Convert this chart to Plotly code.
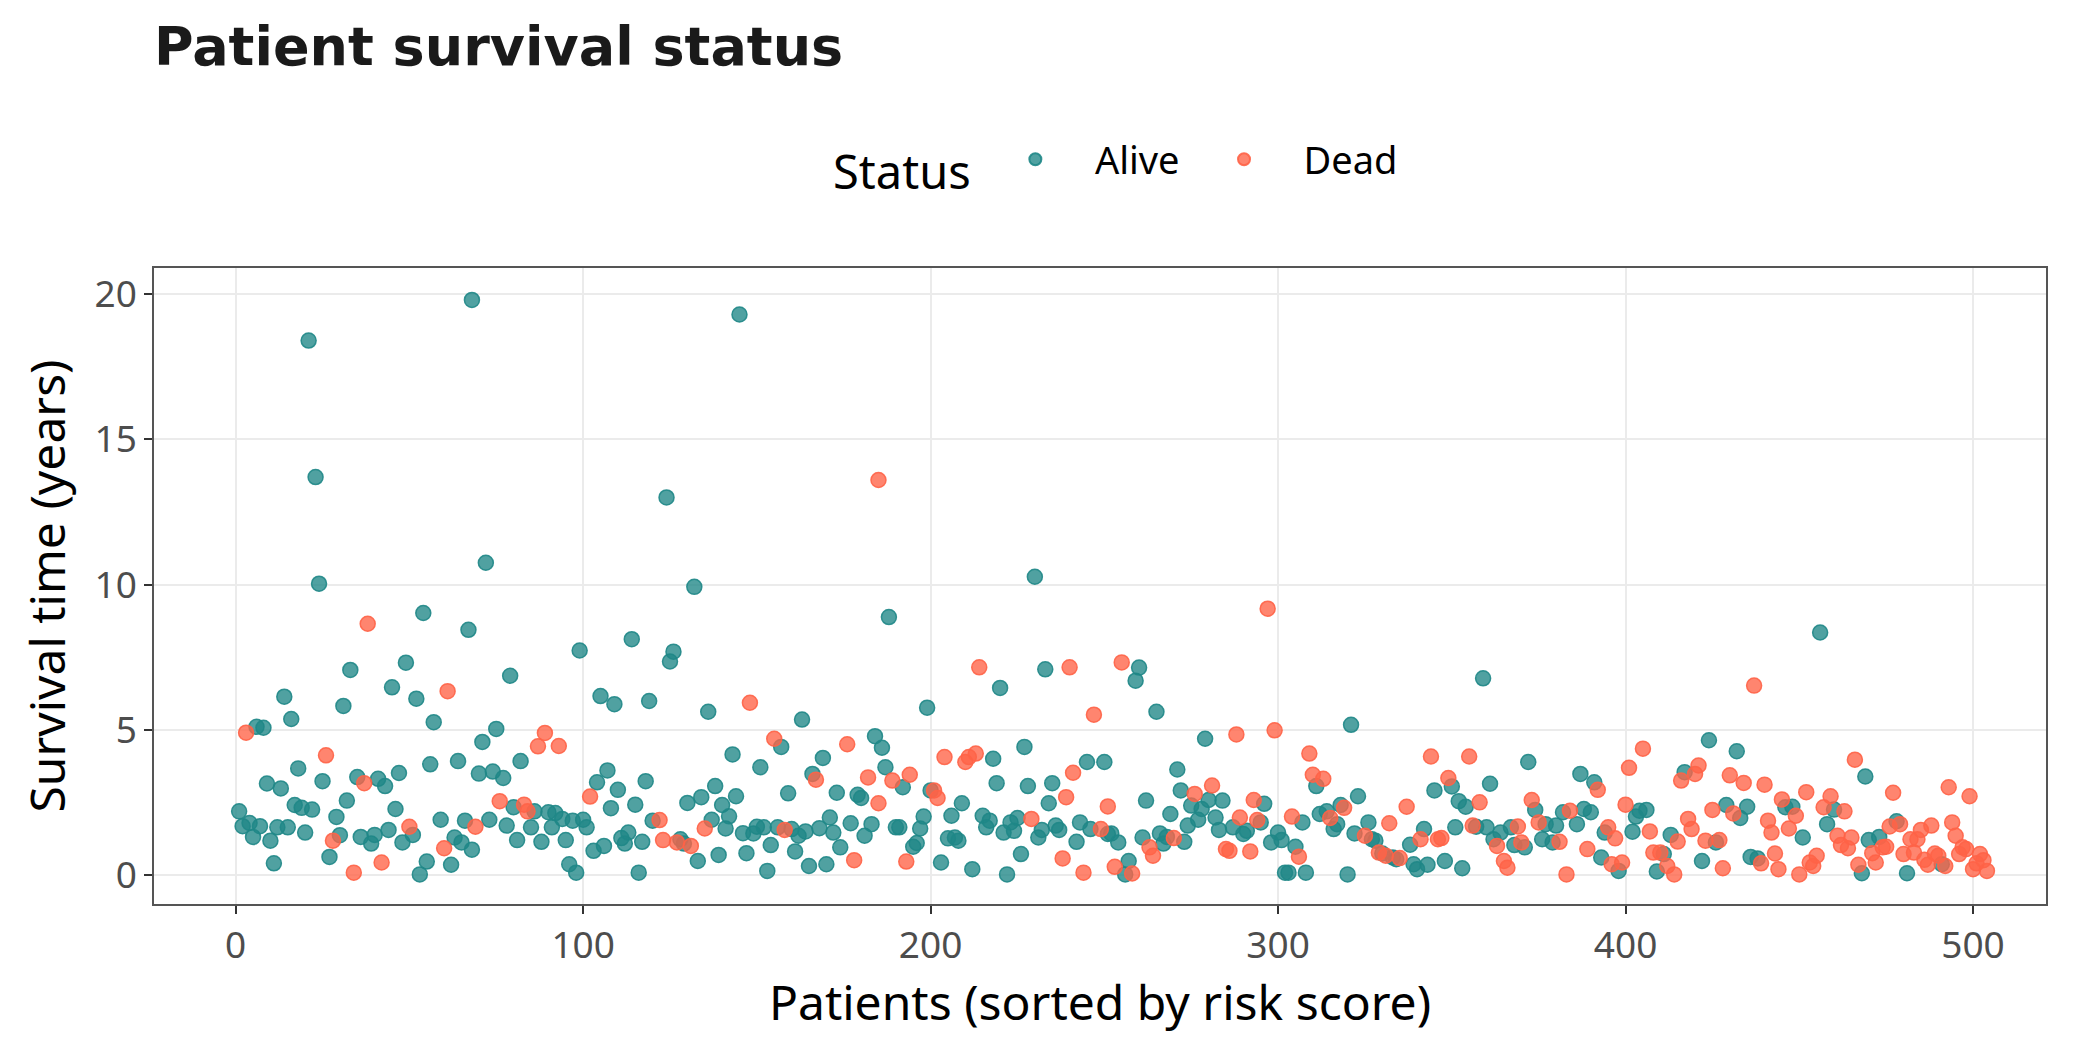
import plotly.graph_objects as go

# ---- Data ----
alive_patients = [1, 2, 4, 5, 6, 7, 8, 9, 10, 11, 12, 13, 14, 15, 16, 17, 18, 19, 20, 21, 22, 23, 24, 25, 27, 29, 30, 31, 32, 33, 35, 36, 39, 40,
                  41, 43, 44, 45, 46, 47, 48, 49, 51, 52, 53, 54, 55, 56, 57, 59, 62, 63, 64, 65, 66, 67, 68, 68, 70, 71, 72, 73, 74, 75, 77, 78, 79, 80, 81, 82,
                  85, 86, 88, 90, 91, 92, 94, 95, 96, 97, 98, 99, 100, 101, 103, 104, 105, 106, 107, 108, 109, 110, 111, 112, 113, 114, 115, 116, 117, 118, 119, 120,
                  124, 125, 126, 128, 129, 130, 132, 133, 134, 136, 137, 138, 139, 140, 141, 142, 143, 144, 145, 146, 147, 149, 150, 151, 152, 153, 154, 156, 157, 159, 160, 161, 162, 163, 164, 165, 166,
                  168, 169, 170, 171, 172, 173, 174, 177, 179, 180, 181, 183, 184, 186, 187, 188, 190, 191, 192, 195, 196, 197, 198, 199, 200, 203, 205, 206, 207, 208, 209,
                  212, 215, 216, 217, 218, 219, 220, 221, 222, 223, 224, 225, 226, 227, 228, 230, 231, 232, 233, 234, 235, 236, 237, 242, 243, 245, 246, 250, 251,
                  252, 254, 256, 257, 259, 260, 261, 262, 265, 266, 267, 268, 269, 271, 272, 273, 274, 275, 277, 278, 279, 280, 282, 283, 284, 287, 290, 291,
                  295, 296, 298, 300, 301, 302, 303, 305, 307, 308, 311, 312, 314, 316, 317, 318, 320, 321, 322, 323, 326, 327, 328, 330, 333, 334,
                  338, 339, 340, 342, 343, 345, 348, 350, 351, 352, 353, 354, 357, 359, 360, 361, 362, 364, 367, 368, 371, 372, 374, 376, 377, 379, 380,
                  382, 386, 387, 388, 390, 391, 393, 394, 398, 402, 403, 404, 406, 409, 411, 413, 417,
                  422, 424, 426, 429, 432, 433, 435, 436, 438, 446, 448, 451, 456, 458, 460,
                  468, 469, 470, 473, 478, 481, 491]
alive_years = [2.19, 1.68, 1.79, 1.31, 5.10, 1.68, 5.07, 3.15, 1.18, 0.40, 1.64, 2.98, 6.14, 1.64, 5.37, 2.41, 3.67, 2.31, 1.46, 18.4, 2.25, 13.7, 10.03, 3.23, 0.62, 2.00, 1.37, 5.82, 2.56, 7.06, 3.37, 1.31, 1.08, 1.38,
               3.31, 3.06, 1.55, 6.46, 2.27, 3.51, 1.12, 7.31, 1.38, 6.07, 0.02, 9.02, 0.46, 3.81, 5.26, 1.90, 0.35, 1.29, 3.92, 1.12, 1.87, 8.44, 19.8, 0.87, 3.49, 4.58, 10.75, 1.90, 3.56, 5.03, 3.34, 1.70, 6.86, 2.33, 1.20, 3.92,
               1.64, 2.19, 1.14, 2.16, 1.64, 2.13, 1.93, 1.20, 0.37, 1.87, 0.08, 7.73, 1.90, 1.64, 0.83, 3.19, 6.16, 1.00, 3.60, 2.30, 5.88, 2.93, 1.27, 1.08, 1.46, 8.12, 2.42, 0.08, 1.14, 3.23, 5.99, 1.87,
               13.0, 7.35, 7.69, 1.23, 1.08, 2.48, 9.92, 0.48, 2.68, 5.62, 1.90, 3.06, 0.69, 2.41, 1.60, 2.02, 4.15, 2.71, 19.3, 1.44, 0.75, 1.43, 1.66, 3.71, 1.64, 0.14, 1.03, 1.64, 4.41, 2.81, 1.58, 0.81, 1.35, 5.35, 1.50, 0.31, 3.48,
               1.61, 4.03, 0.37, 1.98, 1.46, 2.83, 0.95, 1.78, 2.76, 2.65, 1.35, 1.75, 4.78, 4.38, 3.71, 8.88, 1.64, 1.64, 3.02, 0.97, 1.10, 1.60, 2.01, 5.76, 2.91, 0.43, 1.26, 2.04, 1.29, 1.18, 2.47,
               0.20, 2.04, 1.64, 1.87, 4.00, 3.16, 6.44, 1.46, 0.02, 1.81, 1.52, 1.96, 0.72, 4.41, 3.06, 10.27, 1.29, 1.55, 7.08, 2.47, 3.16, 1.70, 1.55, 1.14, 1.81, 3.89, 1.58, 3.89, 1.41,
               1.43, 1.12, 0.02, 0.48, 6.69, 7.14, 1.29, 2.56, 5.62, 1.43, 1.08, 1.31, 2.10, 3.63, 2.91, 1.14, 1.70, 2.39, 1.90, 2.27, 4.69, 2.58, 1.98, 1.55, 2.56, 1.64, 1.41, 1.52,
               1.81, 2.45, 1.12, 1.46, 1.20, 0.08, 0.08, 0.97, 1.81, 0.08, 3.06, 2.10, 2.19, 1.58, 1.75, 2.41, 0.02, 5.17, 1.43, 2.71, 1.81, 1.23, 1.18, 0.74, 0.60, 0.54,
               1.04, 0.37, 0.20, 1.58, 0.35, 2.91, 0.48, 3.05, 1.64, 2.54, 0.23, 2.35, 1.66, 6.77, 1.64, 3.14, 1.23, 1.46, 1.64, 1.03, 0.95, 3.89, 2.24, 1.23, 1.75, 1.12, 1.70,
               2.16, 1.75, 3.48, 2.27, 2.16, 3.19, 0.60, 1.46, 0.14, 1.49, 2.01, 2.21, 2.24, 0.12, 0.72, 1.38, 3.54,
               0.48, 4.64, 1.12, 2.41, 4.26, 1.96, 2.35, 0.62, 0.57, 2.33, 2.35, 1.29, 8.35, 1.75, 2.25,
               0.06, 3.39, 1.20, 1.31, 1.85, 0.06, 0.37]

dead_patients = [3, 26, 28, 34, 37, 38, 42,
                 50, 60, 61, 69, 76, 83, 84,
                 87, 89, 93, 102, 122, 123,
                 127, 131, 135, 148, 155, 158,
                 167, 176, 178, 182, 185, 185, 189, 193, 194, 201, 202, 204,
                 210, 211, 213, 214, 229, 238, 239, 240, 241, 244, 247, 249, 251,
                 253, 255, 258, 263, 264, 270, 276, 281, 285, 286, 288, 289, 292, 293, 294,
                 297, 299, 304, 306, 309, 310, 313, 315, 319, 325, 329, 331, 332, 335,
                 337, 341, 344, 346, 347, 349, 355, 356, 358, 363, 365, 366, 369, 370, 373, 375,
                 381, 383, 384, 389, 392, 395, 396, 397, 399, 400, 401, 405, 407, 408, 410, 412, 414, 415, 416, 418, 419, 420,
                 421, 423, 425, 427, 428, 430, 431, 434, 437, 439, 440, 441, 442, 443, 444, 445, 447, 449, 450, 452, 453, 454, 455, 457, 459, 461, 462, 463,
                 464, 465, 466, 467, 471, 472, 474, 475, 476, 477, 479, 480, 482, 483, 484, 485, 486, 487, 488, 489, 490, 492, 493, 494, 495, 496, 497, 498, 499, 500, 501, 502, 503, 504]
dead_years = [4.90, 4.12, 1.18, 0.08, 3.16, 8.65, 0.43,
              1.66, 0.92, 6.33, 1.66, 2.54, 2.42, 2.19,
              4.43, 4.89, 4.44, 2.70, 1.89, 1.20,
              1.12, 1.00, 1.60, 5.93, 4.69, 1.55,
              3.28, 4.50, 0.51, 3.36, 13.6, 2.47, 3.25, 0.46, 3.45, 2.91, 2.65, 4.06,
              3.89, 4.06, 4.18, 7.15, 1.93, 0.57, 2.68, 7.15, 3.52, 0.08, 5.52, 1.58, 2.36,
              0.28, 7.32, 0.05, 0.95, 0.66, 1.27, 2.79, 3.08, 0.89, 0.83, 4.84, 1.98, 0.81, 2.58, 1.89,
              9.17, 4.98, 2.01, 0.63, 4.18, 3.45, 3.31, 1.96, 2.31, 1.35, 0.77, 0.66, 1.78, 0.58,
              2.35, 1.23, 4.08, 1.23, 1.27, 3.34, 4.08, 1.70, 2.50, 1.00, 0.48, 0.25, 1.67, 1.12, 2.58, 1.81,
              1.14, 0.02, 2.21, 0.89, 2.93, 1.64, 0.37, 1.26, 0.43, 2.42, 3.69, 4.35, 1.50, 0.77, 0.77, 0.31, 0.02, 1.15, 3.25, 1.93, 1.58, 3.48,
              3.77, 1.18, 2.24, 1.20, 0.23, 3.43, 2.12, 3.17, 6.52, 0.40, 3.11, 1.87, 1.46, 0.74, 0.20, 2.60, 1.60, 2.04, 0.02, 2.85, 0.43, 0.31, 0.66, 2.33, 2.71, 1.35, 1.03, 2.19,
              0.92, 1.29, 3.97, 0.35, 0.75, 0.43, 0.95, 0.97, 1.67, 2.83, 1.75, 0.72, 1.23, 0.77, 1.23, 1.55, 0.52, 0.35, 1.70, 0.74, 0.66, 0.31, 3.02, 1.81, 1.35, 0.72, 0.95, 0.89, 2.71, 0.20, 0.40, 0.72, 0.51, 0.14]

status_labels = ["Alive", "Dead"]
x_ticks = [0, 100, 200, 300, 400, 500]
y_ticks = [0, 5, 10, 15, 20]

ALIVE_FILL = "rgba(31,135,135,0.78)"
ALIVE_LINE = "rgba(31,135,135,0.9)"
DEAD_FILL = "rgba(255,99,71,0.78)"
DEAD_LINE = "rgba(255,99,71,0.9)"

NB = "\u00a0"

fig = go.Figure()
fig.add_trace(go.Scatter(
    x=alive_patients, y=alive_years, mode="markers",
    name=NB * 4 + status_labels[0] + NB * 4,
    marker=dict(size=15, color=ALIVE_FILL, line=dict(color=ALIVE_LINE, width=1.5)),
))
fig.add_trace(go.Scatter(
    x=dead_patients, y=dead_years, mode="markers",
    name=NB * 4 + status_labels[1],
    marker=dict(size=15, color=DEAD_FILL, line=dict(color=DEAD_LINE, width=1.5)),
))

axis_common = dict(
    showgrid=True, gridcolor="#EBEBEB", gridwidth=1.5,
    zeroline=False,
    showline=True, mirror=True, linecolor="#555555", linewidth=1.5,
    ticks="outside", ticklen=8, tickwidth=1.5, tickcolor="#333333",
    tickfont=dict(family="Noto Sans", size=37, color="#4D4D4D"),
)

fig.update_layout(
    width=2100, height=1050,
    paper_bgcolor="white", plot_bgcolor="white",
    margin=dict(l=154, r=54, t=268, b=146),
    title=dict(
        text="<b>Patient survival status</b>",
        font=dict(family="DejaVu Sans", size=54, color="#1A1A1A"),
        x=154 / 2100, xref="container", xanchor="left",
        y=1 - 46 / 1050, yref="container", yanchor="middle",
    ),
    legend=dict(
        orientation="h",
        x=0.509, xanchor="center", xref="paper",
        y=1 - 164 / 1050, yref="container", yanchor="middle",
        title=dict(text="Status" + NB * 3, side="left", font=dict(family="Noto Sans", size=47, color="#000000")),
        font=dict(family="Noto Sans", size=38, color="#000000"),
        itemsizing="constant",
    ),
    xaxis=dict(
        **axis_common,
        range=[-23.5, 521],
        tickvals=x_ticks,
        title=dict(text="Patients (sorted by risk score)", font=dict(family="Noto Sans", size=48, color="#000000"), standoff=14),
    ),
    yaxis=dict(
        **axis_common,
        range=[-1.0, 20.9],
        tickvals=y_ticks,
        title=dict(text="Survival time (years)", font=dict(family="Noto Sans", size=48, color="#000000"), standoff=14),
    ),
)

fig.write_html("out.html")
